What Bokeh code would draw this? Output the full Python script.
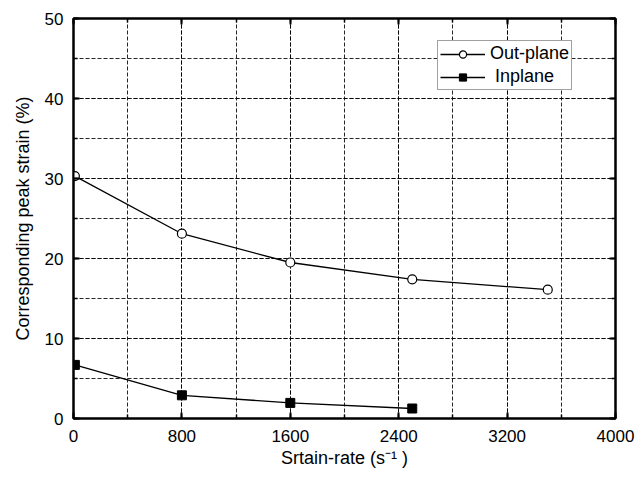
from bokeh.plotting import figure
from bokeh.models import (SingleIntervalTicker, LinearAxis, Legend, LegendItem, Range1d,
                          CustomJSTickFormatter)
from bokeh.embed import file_html
from bokeh.resources import INLINE

# Data
x_out = [10, 800, 1600, 2500, 3500]
y_out = [30.3, 23.1, 19.5, 17.4, 16.1]
x_in = [10, 800, 1600, 2500]
y_in = [6.7, 2.9, 1.95, 1.25]

x_label = "Srtain-rate (s\u207b\u00b9 )"
y_label = "Corresponding peak strain (%)"

FONT = "Liberation Sans"

p = figure(width=643, height=483, x_range=Range1d(0, 4000), y_range=Range1d(0, 50),
           output_backend="svg", toolbar_location=None,
           min_border_left=73, min_border_right=28, min_border_top=18, min_border_bottom=65)
p.background_fill_color = "white"
p.border_fill_color = "white"
p.outline_line_color = "black"
p.outline_line_width = 2

xt = SingleIntervalTicker(interval=800, num_minor_ticks=2)
yt = SingleIntervalTicker(interval=10, num_minor_ticks=2)
p.xaxis.ticker = xt
p.yaxis.ticker = yt
p.xaxis.axis_label = x_label
p.yaxis.axis_label = y_label

def style_axis(ax, labels=True):
    ax.axis_line_width = 2
    ax.axis_line_color = "black"
    ax.major_tick_in = 6
    ax.major_tick_out = 0
    ax.minor_tick_in = 4
    ax.minor_tick_out = 0
    ax.major_tick_line_width = 2
    ax.minor_tick_line_width = 1.5
    ax.major_tick_line_color = "black"
    ax.minor_tick_line_color = "black"
    if labels:
        ax.major_label_text_font = FONT
        ax.major_label_text_font_size = "17px"
        ax.major_label_text_color = "black"
        ax.major_label_standoff = 11
        ax.axis_label_text_font = FONT
        ax.axis_label_text_font_size = "18px"
        ax.axis_label_text_font_style = "normal"
        ax.axis_label_text_color = "black"
    else:
        ax.formatter = CustomJSTickFormatter(code="return ''")
        ax.major_label_standoff = 0

style_axis(p.xaxis[0])
style_axis(p.yaxis[0])
p.yaxis[0].major_label_standoff = 10
p.xaxis[0].axis_label_standoff = 3
p.yaxis[0].axis_label_standoff = 9

ax_r = LinearAxis(ticker=SingleIntervalTicker(interval=10, num_minor_ticks=2))
style_axis(ax_r, labels=False)
p.add_layout(ax_r, "right")
ax_t = LinearAxis(ticker=SingleIntervalTicker(interval=800, num_minor_ticks=2))
style_axis(ax_t, labels=False)
p.add_layout(ax_t, "above")

for g in (p.xgrid[0], p.ygrid[0]):
    g.grid_line_color = "black"
    g.grid_line_width = 1
    g.grid_line_dash = "4 2"
    g.grid_line_alpha = 0.85
    g.minor_grid_line_color = "black"
    g.minor_grid_line_width = 1
    g.minor_grid_line_dash = "4 2"
    g.minor_grid_line_alpha = 0.85

l_out = p.line(x_out, y_out, line_color="black", line_width=1.3)
s_out = p.scatter(x_out, y_out, marker="circle", size=9, fill_color="white",
                  line_color="black", line_width=1.2)
l_in = p.line(x_in, y_in, line_color="black", line_width=1.3)
s_in = p.scatter(x_in, y_in, marker="square", size=9, fill_color="black",
                 line_color="black")

legend = Legend(items=[LegendItem(label="Out-plane", renderers=[l_out, s_out]),
                       LegendItem(label=" Inplane", renderers=[l_in, s_in])],
                location=(364, 328))
legend.label_text_font = FONT
legend.label_text_font_size = "18px"
legend.label_text_color = "black"
legend.glyph_width = 45
legend.glyph_height = 18
legend.label_height = 18
legend.label_standoff = 5
legend.padding = 2
legend.spacing = 2
legend.margin = 0
legend.border_line_color = "#444444"
legend.border_line_width = 1
legend.background_fill_color = "white"
legend.background_fill_alpha = 1
p.add_layout(legend, "center")

open("out.html", "w").write(file_html(p, INLINE))
